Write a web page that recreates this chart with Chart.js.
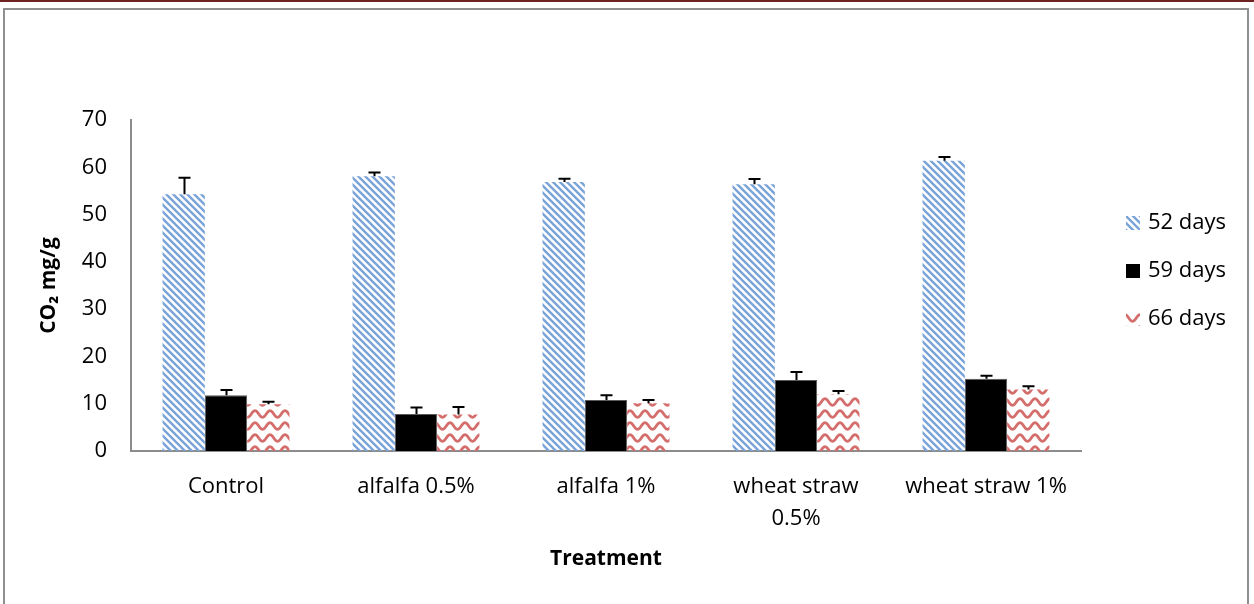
<!DOCTYPE html>
<html>
<head>
<meta charset="utf-8">
<title>CO2 evolution by treatment</title>
<script src="https://cdn.jsdelivr.net/npm/chart.js@4/dist/chart.umd.min.js"></script>
<style>
  html, body { margin: 0; padding: 0; background: #fff; }
  #wrap { position: relative; width: 1254px; height: 604px; overflow: hidden; }
  #topRule { position: absolute; left: 0; top: 0; width: 1254px; height: 2px; background: #6e2323; }
  #frame { position: absolute; left: 3px; top: 8px; width: 1246px; height: 620px;
           border: 2px solid #8f8f8f; box-sizing: border-box; }
  canvas { position: absolute; left: 0; top: 0; }
</style>
</head>
<body>
<div id="wrap">
  <div id="topRule"></div>
  <div id="frame"></div>
  <canvas id="chart" width="1254" height="604"></canvas>
</div>
<script>
// Treatments and measured CO2 (mg/g) at three incubation times, with standard errors
const categories = ['Control', 'alfalfa 0.5%', 'alfalfa 1%', ['wheat straw', '0.5%'], 'wheat straw 1%'];
const seriesNames = ['52 days', '59 days', '66 days'];
const days52 = [54.3, 58.1, 56.9, 56.4, 61.4];
const days59 = [11.8, 7.8, 10.8, 15.0, 15.3];
const days66 = [9.9, 7.7, 10.1, 12.0, 13.0];
const err52 = [3.5, 0.8, 0.7, 1.1, 0.8];
const err59 = [1.1, 1.4, 1.0, 1.7, 0.6];
const err66 = [0.5, 1.6, 0.7, 0.7, 0.7];
const yTicks = [0, 10, 20, 30, 40, 50, 60, 70];

const FONT = '"Open Sans", "DejaVu Sans", sans-serif';

// Diagonal blue hatch fill
function stripePattern() {
  const s = 7;
  const c = document.createElement('canvas');
  c.width = s; c.height = s;
  const g = c.getContext('2d');
  g.strokeStyle = '#7aa3d8';
  g.lineWidth = 2.4;
  g.beginPath();
  g.moveTo(-1, -1); g.lineTo(s + 1, s + 1);
  g.moveTo(-1, s - 1); g.lineTo(1, s + 1);
  g.moveTo(s - 1, -1); g.lineTo(s + 1, 1);
  g.stroke();
  return g.createPattern(c, 'repeat');
}

// Red wavy-line fill
function wavePattern() {
  const w = 15, h = 12;
  const c = document.createElement('canvas');
  c.width = w; c.height = h;
  const g = c.getContext('2d');
  g.strokeStyle = '#d46e6c';
  g.lineWidth = 2.8;
  g.lineJoin = 'round';
  g.beginPath();
  for (let x = -1; x <= w + 1; x += 0.5) {
    const y = 6 - 3.3 * Math.cos(2 * Math.PI * x / w);
    if (x === -1) g.moveTo(x, y); else g.lineTo(x, y);
  }
  g.stroke();
  return g.createPattern(c, 'repeat');
}

const errorSets = [err52, err59, err66];

// Upper error whiskers with caps
const errorBars = {
  id: 'errorBars',
  afterDatasetsDraw(chart) {
    const ctx = chart.ctx;
    const yScale = chart.scales.y;
    ctx.save();
    ctx.strokeStyle = '#000';
    ctx.lineWidth = 2;
    chart.data.datasets.forEach((ds, di) => {
      const meta = chart.getDatasetMeta(di);
      meta.data.forEach((bar, i) => {
        const top = yScale.getPixelForValue(ds.data[i] + errorSets[di][i]);
        const x = Math.round(bar.x) + 0.5;
        ctx.beginPath();
        ctx.moveTo(x, bar.y);
        ctx.lineTo(x, top);
        ctx.moveTo(x - 6, top);
        ctx.lineTo(x + 6, top);
        ctx.stroke();
      });
    });
    ctx.restore();
  }
};

// Legend column on the right
const sideLegend = {
  id: 'sideLegend',
  afterDraw(chart) {
    const ctx = chart.ctx;
    const rows = [223, 271, 319];
    ctx.save();
    ctx.font = '22px ' + FONT;
    ctx.textBaseline = 'middle';
    chart.data.datasets.forEach((ds, i) => {
      const cy = rows[i];
      ctx.fillStyle = ds.backgroundColor;
      ctx.fillRect(1126, cy - 7, 14, 14);
      ctx.fillStyle = '#000';
      ctx.textAlign = 'left';
      ctx.fillText(ds.label, 1148, cy);
    });
    ctx.restore();
  }
};

const chart = new Chart(document.getElementById('chart'), {
  type: 'bar',
  data: {
    labels: categories,
    datasets: [
      { label: seriesNames[0], data: days52, backgroundColor: stripePattern(), borderWidth: 0 },
      { label: seriesNames[1], data: days59, backgroundColor: '#000000', borderColor: '#5a5a5a', borderWidth: 1 },
      { label: seriesNames[2], data: days66, backgroundColor: wavePattern(), borderWidth: 0 }
    ]
  },
  options: {
    responsive: false,
    animation: false,
    events: [],
    layout: { padding: { left: 0, top: 120, right: 173, bottom: 0 } },
    datasets: { bar: { categoryPercentage: 0.668, barPercentage: 1.0 } },
    plugins: {
      legend: { display: false },
      tooltip: { enabled: false }
    },
    scales: {
      x: {
        grid: { display: false, drawTicks: false, tickLength: 0 },
        border: { display: true, color: '#8c8c8c', width: 2 },
        ticks: {
          color: '#000',
          font: { family: FONT, size: 22, lineHeight: 1.45 },
          padding: 20,
          maxRotation: 0,
          autoSkip: false
        },
        title: {
          display: true,
          text: 'Treatment',
          color: '#000',
          font: { family: FONT, size: 21, weight: 'bold' },
          padding: { top: 0, bottom: 32 }
        },
        afterFit(scale) { scale.height = 153; }
      },
      y: {
        min: 0,
        max: 70,
        afterBuildTicks(scale) { scale.ticks = yTicks.map(v => ({ value: v })); },
        grid: { display: false, drawTicks: false, tickLength: 0 },
        border: { display: true, color: '#8c8c8c', width: 2 },
        ticks: {
          color: '#000',
          font: { family: FONT, size: 22 },
          padding: 24
        },
        title: {
          display: true,
          text: 'CO\u2082 mg/g',
          color: '#000',
          font: { family: FONT, size: 21, weight: 'bold' },
          padding: { top: 36, bottom: 0 }
        },
        afterFit(scale) { scale.width = 131; }
      }
    }
  },
  plugins: [errorBars, sideLegend]
});
</script>
</body>
</html>
